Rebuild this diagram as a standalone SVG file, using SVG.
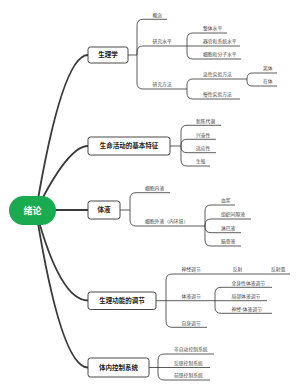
<svg xmlns="http://www.w3.org/2000/svg" width="300" height="390" viewBox="0 0 300 390">
<style>
text{font-family:"Noto Sans CJK SC","Noto Sans",sans-serif}
.root rect{fill:#1aaa50}
.root text{fill:#fff;font-size:9px;font-weight:700;text-anchor:middle}
.main rect{fill:#fff;stroke:#333;stroke-width:0.9}
.main text{fill:#222;font-size:6.5px;font-weight:700;text-anchor:middle}
.sub text{fill:#444;font-size:4.8px}
.sub line{stroke:#333;stroke-width:0.8}
.c1{fill:none;stroke:#3a3a3a;stroke-width:1.8}
.c2{fill:none;stroke:#333;stroke-width:0.8}
</style>
<g id="connectors">
<path class="c1" d="M36,211 Q62,55 88,55"/>
<path class="c1" d="M36,211 Q68,146 88,146"/>
<path class="c1" d="M40,210 H88"/>
<path class="c1" d="M36,211 Q60,300.5 88,300.5"/>
<path class="c1" d="M36,211 Q61,367.5 88,367.5"/>
<path class="c2" d="M128,55 H137 M137,55 V25.3 Q137,19.3 143,19.3 M137,55 V52 Q137,46 143,46 M137,55 V83 Q137,89 143,89"/>
<path class="c2" d="M187,46 V39 Q187,33 193,33 M187,46 H193 M187,46 V53 Q187,59 193,59"/>
<path class="c2" d="M187,89 V85 Q187,79 193,79 M187,89 V93 Q187,99 193,99"/>
<path class="c2" d="M247,79 Q247,73 252,73 M247,79 V81 Q247,86 252,86"/>
<path class="c2" d="M170,146 H181 M181,146 V131.3 Q181,125.3 187,125.3 M181,146 V145.3 Q181,139.3 187,139.3 M181,146 V146.7 Q181,152.7 187,152.7 M181,146 V160 Q181,166 187,166"/>
<path class="c2" d="M120,210 H130 M130,210 V198.7 Q130,192.7 136,192.7 M130,210 V220 Q130,226 136,226"/>
<path class="c2" d="M205,226 V211 Q205,205 211,205 M205,226 V225 Q205,219 211,219 M205,226 V226.7 Q205,232.7 211,232.7 M205,226 V240 Q205,246 211,246"/>
<path class="c2" d="M156,300.7 H166 M166,300.7 V280 Q166,274 172,274 M166,300.7 H172 M166,300.7 V321.3 Q166,327.3 172,327.3"/>
<path class="c2" d="M214,274 H220 M252,274 H258"/>
<path class="c2" d="M215,300.7 V293.3 Q215,287.3 221,287.3 M215,300.7 H221 M215,300.7 V307.3 Q215,313.3 221,313.3"/>
<path class="c2" d="M149,367.5 H158 M158,367.5 V360 Q158,354 164,354 M158,367.5 H164 M158,367.5 V374 Q158,380 164,380"/>
</g>
<g id="root" class="root"><rect x="9" y="196" width="47" height="29" rx="14.5"/><text x="32.5" y="214">绪论</text></g>
<g id="n1" class="main"><rect x="88" y="47" width="40" height="16" rx="2.5"/><text x="108" y="57.3">生理学</text></g>
<g id="n2" class="main"><rect x="88" y="137" width="82" height="18" rx="2.5"/><text x="129" y="148.3">生命活动的基本特征</text></g>
<g id="n3" class="main"><rect x="88" y="201" width="32" height="18" rx="2.5"/><text x="104" y="212.3">体液</text></g>
<g id="n4" class="main"><rect x="88" y="292" width="68" height="17.5" rx="2.5"/><text x="122" y="303">生理功能的调节</text></g>
<g id="n5" class="main"><rect x="88" y="358" width="61" height="19" rx="2.5"/><text x="118.5" y="369.8">体内控制系统</text></g>

<g id="n1-1" class="sub"><line x1="143" y1="19.3" x2="167" y2="19.3"/><text x="152.5" y="16.5">概念</text></g>
<g id="n1-2" class="sub"><line x1="143" y1="46" x2="187" y2="46"/><text x="152.5" y="43.2">研究水平</text></g>
<g id="n1-3" class="sub"><line x1="143" y1="89" x2="187" y2="89"/><text x="152.5" y="86.2">研究方法</text></g>
<g id="n1-2-1" class="sub"><line x1="193" y1="33" x2="227" y2="33"/><text x="203" y="30.2">整体水平</text></g>
<g id="n1-2-2" class="sub"><line x1="193" y1="46" x2="240" y2="46"/><text x="203" y="43.2">器官和系统水平</text></g>
<g id="n1-2-3" class="sub"><line x1="193" y1="59" x2="241" y2="59"/><text x="203" y="56.2">细胞和分子水平</text></g>
<g id="n1-3-1" class="sub"><line x1="193" y1="79" x2="247" y2="79"/><text x="203" y="76.2">急性实验方法</text></g>
<g id="n1-3-2" class="sub"><line x1="193" y1="99" x2="240" y2="99"/><text x="203" y="96.2">慢性实验方法</text></g>
<g id="n1-3-1-1" class="sub"><line x1="252" y1="73" x2="277" y2="73"/><text x="263" y="70.2">离体</text></g>
<g id="n1-3-1-2" class="sub"><line x1="252" y1="86" x2="277" y2="86"/><text x="263" y="83.2">在体</text></g>

<g id="n2-1" class="sub"><line x1="187" y1="125.3" x2="221" y2="125.3"/><text x="196" y="122.5">新陈代谢</text></g>
<g id="n2-2" class="sub"><line x1="187" y1="139.3" x2="216" y2="139.3"/><text x="196" y="136.5">兴奋性</text></g>
<g id="n2-3" class="sub"><line x1="187" y1="152.7" x2="216" y2="152.7"/><text x="196" y="149.9">适应性</text></g>
<g id="n2-4" class="sub"><line x1="187" y1="166" x2="210" y2="166"/><text x="196" y="163.2">生殖</text></g>

<g id="n3-1" class="sub"><line x1="136" y1="192.7" x2="170" y2="192.7"/><text x="145" y="189.9">细胞内液</text></g>
<g id="n3-2" class="sub"><line x1="136" y1="226" x2="205" y2="226"/><text x="145" y="223.2">细胞外液（内环境）</text></g>
<g id="n3-2-1" class="sub"><line x1="211" y1="205" x2="235" y2="205"/><text x="221" y="202.2">血浆</text></g>
<g id="n3-2-2" class="sub"><line x1="211" y1="219" x2="251" y2="219"/><text x="221" y="216.2">组织间隙液</text></g>
<g id="n3-2-3" class="sub"><line x1="211" y1="232.7" x2="241" y2="232.7"/><text x="221" y="229.9">淋巴液</text></g>
<g id="n3-2-4" class="sub"><line x1="211" y1="246" x2="241" y2="246"/><text x="221" y="243.2">脑脊液</text></g>

<g id="n4-1" class="sub"><line x1="172" y1="274" x2="214" y2="274"/><text x="181.5" y="271.2">神经调节</text></g>
<g id="n4-1-1" class="sub"><line x1="220" y1="274" x2="252" y2="274"/><text x="232.7" y="271.2">反射</text></g>
<g id="n4-1-1-1" class="sub"><line x1="258" y1="274" x2="290" y2="274"/><text x="271" y="271.2">反射弧</text></g>
<g id="n4-2" class="sub"><line x1="172" y1="300.7" x2="215" y2="300.7"/><text x="181.5" y="297.9">体液调节</text></g>
<g id="n4-3" class="sub"><line x1="172" y1="327.3" x2="207" y2="327.3"/><text x="181.5" y="324.5">自身调节</text></g>
<g id="n4-2-1" class="sub"><line x1="221" y1="287.3" x2="272" y2="287.3"/><text x="231.5" y="284.5">全身性体液调节</text></g>
<g id="n4-2-2" class="sub"><line x1="221" y1="300.7" x2="267" y2="300.7"/><text x="231.5" y="297.9">局部体液调节</text></g>
<g id="n4-2-3" class="sub"><line x1="221" y1="313.3" x2="272" y2="313.3"/><text x="231.5" y="310.5">神经-体液调节</text></g>

<g id="n5-1" class="sub"><line x1="164" y1="354" x2="214" y2="354"/><text x="174" y="351.2">非自动控制系统</text></g>
<g id="n5-2" class="sub"><line x1="164" y1="367.5" x2="210" y2="367.5"/><text x="174" y="364.7">反馈控制系统</text></g>
<g id="n5-3" class="sub"><line x1="164" y1="380" x2="210" y2="380"/><text x="174" y="377.2">前馈控制系统</text></g>
</svg>
